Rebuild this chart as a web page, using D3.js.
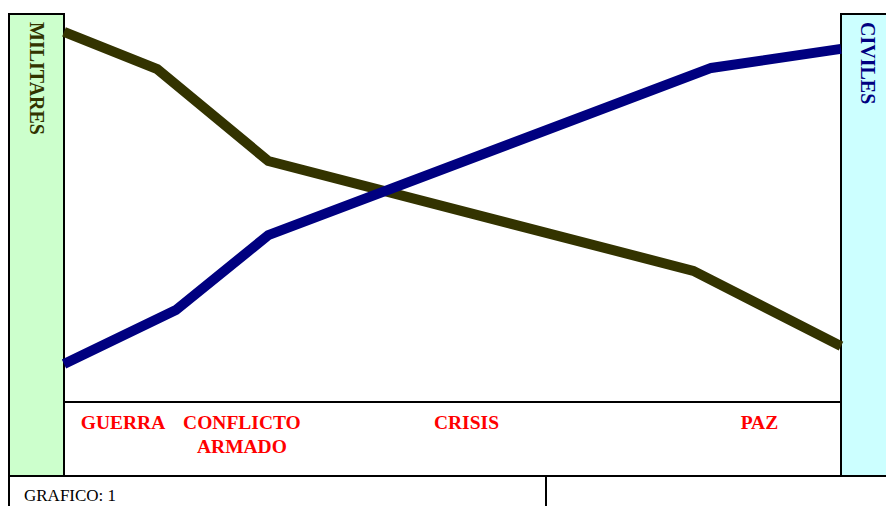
<!DOCTYPE html>
<html>
<head>
<meta charset="utf-8">
<script src="https://cdn.jsdelivr.net/npm/d3@7"></script>
<style>
  body { margin: 0; background: #fff; }
  svg { display: block; }
</style>
</head>
<body>
<svg id="chart"></svg>
<script>
// phases along the bottom (x position in 0..100 units)
const phases = ["GUERRA", "CONFLICTO|ARMADO", "CRISIS", "PAZ"];
const phaseX = [7.6, 22.9, 51.8, 89.5];

// militares line
const milX = [0, 12.0, 26.3, 81.0, 100];
const milY = [95.4, 85.8, 62.1, 33.8, 14.4];

// civiles line
const civX = [0, 14.4, 26.3, 83.3, 100];
const civY = [9.8, 23.7, 43.0, 86.1, 91.0];

const width = 886;
const height = 506;
const font = 'Liberation Serif, Times New Roman, serif';

const svg = d3.select('#chart')
    .attr('width', width)
    .attr('height', height);

const xScale = d3.scaleLinear().domain([0, 100]).range([64, 841]);
const yScale = d3.scaleLinear().domain([0, 100]).range([402, 14]);

const line = d3.line()
    .x(d => xScale(d[0]))
    .y(d => yScale(d[1]));

// side panels
svg.append('rect')
   .attr('x', 9).attr('y', 14).attr('width', 55).attr('height', 462)
   .attr('fill', '#ccffcc').attr('stroke', '#000').attr('stroke-width', 2);

svg.append('rect')
   .attr('x', 841).attr('y', 14).attr('width', 50).attr('height', 462)
   .attr('fill', '#ccffff').attr('stroke', '#000').attr('stroke-width', 2);

// label strip + bottom row
svg.append('rect')
   .attr('x', 64).attr('y', 402).attr('width', 777).attr('height', 74)
   .attr('fill', '#fff').attr('stroke', '#000').attr('stroke-width', 2);

svg.append('line')
   .attr('x1', 9).attr('x2', 886).attr('y1', 476).attr('y2', 476)
   .attr('stroke', '#000').attr('stroke-width', 2);
svg.append('line')
   .attr('x1', 9).attr('x2', 9).attr('y1', 476).attr('y2', 506)
   .attr('stroke', '#000').attr('stroke-width', 2);
svg.append('line')
   .attr('x1', 546).attr('x2', 546).attr('y1', 476).attr('y2', 506)
   .attr('stroke', '#000').attr('stroke-width', 2);

// the two lines
svg.append('path')
   .datum(d3.zip(milX, milY))
   .attr('d', line)
   .attr('fill', 'none')
   .attr('stroke', '#333300')
   .attr('stroke-width', 10);

svg.append('path')
   .datum(d3.zip(civX, civY))
   .attr('d', line)
   .attr('fill', 'none')
   .attr('stroke', '#000080')
   .attr('stroke-width', 10);

// vertical titles
svg.append('text')
   .attr('transform', 'translate(30,22) rotate(90)')
   .attr('font-family', font)
   .attr('font-weight', 'bold')
   .attr('font-size', 20)
   .attr('fill', '#333300')
   .text('MILITARES');

svg.append('text')
   .attr('transform', 'translate(861,22) rotate(90)')
   .attr('font-family', font)
   .attr('font-weight', 'bold')
   .attr('font-size', 20)
   .attr('fill', '#000080')
   .text('CIVILES');

// phase labels
const labels = svg.selectAll('.phase')
   .data(phases)
   .enter()
   .append('text')
   .attr('class', 'phase')
   .attr('text-anchor', 'middle')
   .attr('font-family', font)
   .attr('font-weight', 'bold')
   .attr('font-size', 19.5)
   .attr('fill', '#ff0000');

labels.each(function (d, i) {
    const parts = d.split('|');
    parts.forEach((p, j) => {
        d3.select(this).append('tspan')
          .attr('x', xScale(phaseX[i]))
          .attr('y', 429 + j * 24)
          .text(p);
    });
});

svg.append('text')
   .attr('x', 24).attr('y', 501)
   .attr('font-family', font)
   .attr('font-size', 17)
   .attr('fill', '#000')
   .text('GRAFICO: 1');
</script>
</body>
</html>
